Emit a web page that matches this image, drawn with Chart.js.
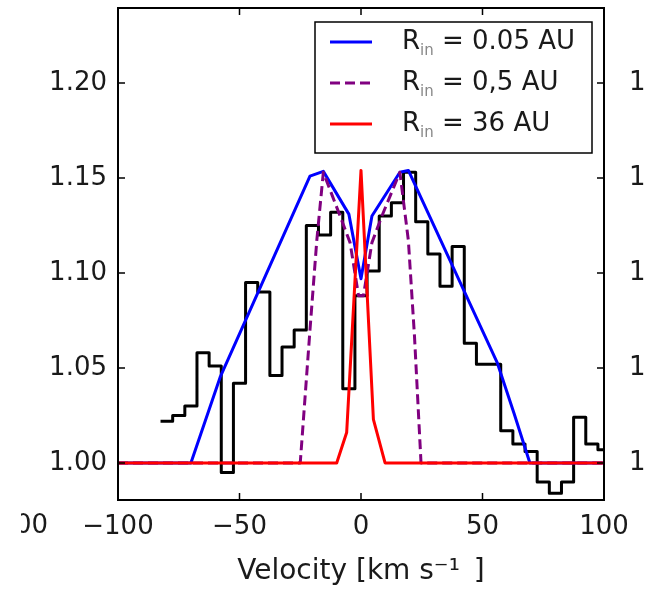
<!DOCTYPE html>
<html>
<head>
<meta charset="utf-8">
<script src="https://cdn.jsdelivr.net/npm/chart.js@4.4.1/dist/chart.umd.min.js"></script>
<style>
  html, body { margin: 0; padding: 0; background: #fff; }
</style>
</head>
<body>
<canvas id="grafico" width="654" height="590"></canvas>
<script>
// perfil observado: centros de bin (km/s) y flujo normalizado
const binCentros = [-80, -75, -70, -65, -60, -55, -50, -45, -40, -35, -30, -25, -20, -15, -10, -5,
  0, 5, 10, 15, 20, 25, 30, 35, 40, 45, 50, 55, 60, 65, 70, 75, 80, 85, 90, 95, 100];
const flujoObs = [1.022, 1.025, 1.030, 1.058, 1.051, 0.995, 1.042, 1.095, 1.090, 1.046, 1.061, 1.070,
  1.125, 1.120, 1.132, 1.039, 1.088, 1.101, 1.130, 1.137, 1.153, 1.127, 1.110, 1.093, 1.114, 1.063,
  1.052, 1.052, 1.017, 1.010, 1.006, 0.990, 0.984, 0.990, 1.024, 1.010, 1.007];
const anchoBin = 5;

// modelo R_in = 0.05 AU
const velRin005 = [-100, -70, -58, -21, -15.5, -5, 0, 4.5, 16, 19.5, 56, 63, 69.5, 100];
const flujoRin005 = [1.0, 1.0, 1.045, 1.151, 1.1535, 1.131, 1.097, 1.13, 1.153, 1.154, 1.053, 1.026, 1.0, 1.0];

// modelo R_in = 0.5 AU
const velRin05 = [-100, -25, -21, -18.2, -15.5, -8.6, -4.5, -1, 1, 4.5, 8.6, 16, 19.5, 22, 24.7, 100];
const flujoRin05 = [1.0, 1.0, 1.07, 1.117, 1.153, 1.13, 1.116, 1.088, 1.088, 1.116, 1.13, 1.153, 1.117, 1.067, 1.0, 1.0];

// modelo R_in = 36 AU
const velRin36 = [-100, -10, -5.9, 0, 5.1, 9.9, 100];
const flujoRin36 = [1.0, 1.0, 1.016, 1.154, 1.023, 1.0, 1.0];

const ticksX = [-100, -50, 0, 50, 100];
const ticksY = [1.00, 1.05, 1.10, 1.15, 1.20];

const fuente = "'DejaVu Sans', sans-serif";

function puntos(xs, ys) {
  return xs.map((x, i) => ({ x: x, y: ys[i] }));
}

// escalones del histograma: cada punto en el borde izquierdo del bin
const pasosObs = binCentros.map((c, i) => ({ x: c - anchoBin / 2, y: flujoObs[i] }));
pasosObs.push({ x: binCentros[binCentros.length - 1] + anchoBin / 2, y: flujoObs[flujoObs.length - 1] });

// marco, ticks hacia dentro y etiquetas de los paneles vecinos
const marco = {
  id: 'marco',
  afterDatasetsDraw(chart) {
    const ctx = chart.ctx;
    const ca = chart.chartArea;
    const sx = chart.scales.x, sy = chart.scales.y;
    ctx.save();
    ctx.strokeStyle = '#000';
    ctx.lineWidth = 1.5;
    ticksX.forEach(v => {
      const px = sx.getPixelForValue(v);
      ctx.beginPath();
      ctx.moveTo(px, ca.bottom); ctx.lineTo(px, ca.bottom - 7);
      ctx.moveTo(px, ca.top); ctx.lineTo(px, ca.top + 7);
      ctx.stroke();
    });
    ticksY.forEach(v => {
      const py = sy.getPixelForValue(v);
      ctx.beginPath();
      ctx.moveTo(ca.left, py); ctx.lineTo(ca.left + 7, py);
      ctx.moveTo(ca.right, py); ctx.lineTo(ca.right - 7, py);
      ctx.stroke();
    });
    ctx.lineWidth = 2;
    ctx.strokeRect(ca.left, ca.top, ca.right - ca.left, ca.bottom - ca.top);

    // restos de los ejes de los paneles de al lado
    ctx.fillStyle = '#1a1a1a';
    ctx.font = '26px ' + fuente;
    ctx.textBaseline = 'middle';
    ctx.textAlign = 'left';
    ticksY.forEach(v => {
      ctx.fillText('1', ca.right + 25, sy.getPixelForValue(v));
    });
    ctx.beginPath();
    ctx.rect(21, ca.bottom, 100, 60);
    ctx.clip();
    ctx.textAlign = 'right';
    ctx.fillText('100', 48, ca.bottom + 26);
    ctx.restore();
  }
};

// leyenda dentro del area del grafico
const leyenda = {
  id: 'leyenda',
  afterDraw(chart) {
    const ctx = chart.ctx;
    const ca = chart.chartArea;
    const x0 = ca.right - 289, y0 = ca.top + 14, w = 277, h = 131;
    ctx.save();
    ctx.fillStyle = '#fff';
    ctx.fillRect(x0, y0, w, h);
    ctx.strokeStyle = '#000';
    ctx.lineWidth = 1.5;
    ctx.strokeRect(x0, y0, w, h);
    const items = chart.data.datasets.filter(d => d.etiqueta);
    items.sort((a, b) => a.fila - b.fila);
    items.forEach((d, i) => {
      const y = y0 + 20 + i * 41;
      ctx.beginPath();
      ctx.strokeStyle = d.borderColor;
      ctx.lineWidth = 3;
      ctx.setLineDash(d.borderDash || []);
      ctx.moveTo(x0 + 15, y);
      ctx.lineTo(x0 + 57, y);
      ctx.stroke();
      ctx.setLineDash([]);
      ctx.fillStyle = '#1a1a1a';
      ctx.textBaseline = 'middle';
      ctx.textAlign = 'left';
      let tx = x0 + 87;
      ctx.font = '26px ' + fuente;
      ctx.fillText(d.etiqueta[0], tx, y);
      tx += ctx.measureText(d.etiqueta[0]).width;
      ctx.font = '15px ' + fuente;
      ctx.fillStyle = '#888';
      ctx.fillText(d.etiqueta[1], tx, y + 9);
      tx += ctx.measureText(d.etiqueta[1]).width;
      ctx.font = '26px ' + fuente;
      ctx.fillStyle = '#1a1a1a';
      ctx.fillText(d.etiqueta[2], tx, y);
    });
    ctx.restore();
  }
};

new Chart(document.getElementById('grafico').getContext('2d'), {
  type: 'line',
  data: {
    datasets: [
      {
        label: 'observado',
        data: pasosObs,
        borderColor: '#000',
        borderWidth: 3,
        stepped: true,
        order: 4
      },
      {
        label: 'R_in = 0.05 AU',
        etiqueta: ['R', 'in', ' = 0.05 AU'],
        fila: 0,
        data: puntos(velRin005, flujoRin005),
        borderColor: '#0000ff',
        borderWidth: 3,
        order: 3
      },
      {
        label: 'R_in = 0,5 AU',
        etiqueta: ['R', 'in', ' = 0,5 AU'],
        fila: 1,
        data: puntos(velRin05, flujoRin05),
        borderColor: '#800080',
        borderWidth: 3,
        borderDash: [10, 5],
        order: 2
      },
      {
        label: 'R_in = 36 AU',
        etiqueta: ['R', 'in', ' = 36 AU'],
        fila: 2,
        data: puntos(velRin36, flujoRin36),
        borderColor: '#ff0000',
        borderWidth: 3,
        order: 1
      }
    ]
  },
  options: {
    responsive: false,
    animation: false,
    devicePixelRatio: 1,
    layout: { padding: { left: 0, right: 50, top: 8, bottom: 0 } },
    elements: { point: { radius: 0 }, line: { tension: 0, borderJoinStyle: 'round' } },
    plugins: { legend: { display: false }, tooltip: { enabled: false } },
    scales: {
      x: {
        type: 'linear',
        min: -100,
        max: 100,
        afterBuildTicks: s => { s.ticks = ticksX.map(v => ({ value: v })); },
        afterFit: s => { s.height = 90; s.paddingLeft = 0; s.paddingRight = 0; },
        grid: { display: false, drawTicks: false },
        border: { display: false },
        ticks: {
          padding: 12,
          color: '#1a1a1a',
          maxRotation: 0,
          autoSkip: false,
          font: { family: fuente, size: 26 },
          callback: v => (v < 0 ? '\u2212' + Math.abs(v) : String(v))
        },
        title: {
          display: true,
          text: 'Velocity [km s\u207B\u00B9\u2002]',
          color: '#1a1a1a',
          font: { family: fuente, size: 28 },
          padding: { top: 0, bottom: 1 }
        }
      },
      y: {
        type: 'linear',
        min: 0.9805,
        max: 1.2395,
        afterBuildTicks: s => { s.ticks = ticksY.map(v => ({ value: v })); },
        afterFit: s => { s.width = 118; s.paddingTop = 0; s.paddingBottom = 0; },
        grid: { display: false, drawTicks: false },
        border: { display: false },
        ticks: {
          padding: 11,
          color: '#1a1a1a',
          font: { family: fuente, size: 26 },
          callback: v => v.toFixed(2)
        }
      }
    }
  },
  plugins: [marco, leyenda]
});
</script>
</body>
</html>
